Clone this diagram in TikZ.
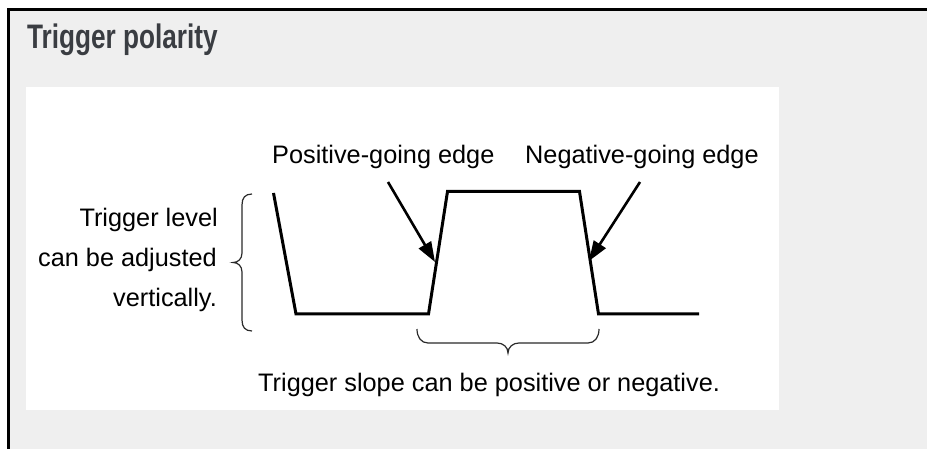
\documentclass[tikz,border=0pt]{standalone}
\usepackage{fontspec}
\setmainfont{Liberation Sans}
\usetikzlibrary{arrows.meta}
\definecolor{panelgray}{HTML}{EFEFEF}
\definecolor{titlegray}{HTML}{3A3D42}
\definecolor{bracegray}{HTML}{2A2A2A}
\tikzset{
  lbl/.style={inner sep=0pt, font=\fontsize{25.3}{30}\selectfont, text=black},
  wave/.style={line width=3pt, line join=miter},
  pointer/.style={line width=2.6pt, -{Triangle[length=20pt,width=14pt]}},
  bracepath/.style={line width=1.2pt, draw=bracegray},
}
\begin{document}
\begin{tikzpicture}[x=1pt,y=-1pt]
\useasboundingbox (0,0) rectangle (927,449);
\clip (0,0) rectangle (927,449);
\fill[white] (0,0) rectangle (927,449);
% outer frame
\filldraw[fill=panelgray, draw=black, line width=3pt] (8,10) rectangle (960,480);
% white panel
\fill[white] (26,87) rectangle (779,410);
% title
\node[inner sep=0pt, anchor=base west, text=titlegray, xscale=0.77,
      font=\fontsize{34}{40}\bfseries\selectfont] (title) at (27,49) {Trigger polarity};
% labels
\node[lbl, anchor=base west] (pos) at (272,164) {Positive-going edge};
\node[lbl, anchor=base west] (neg) at (525,164) {Negative-going edge};
\node[lbl, anchor=base east] (lv1) at (218,227) {Trigger level};
\node[lbl, anchor=base east] (lv2) at (217,267) {can be adjusted};
\node[lbl, anchor=base east] (lv3) at (217,307) {vertically.};
\node[lbl, anchor=base west] (slope) at (258,391) {Trigger slope can be positive or negative.};
% waveform
\coordinate (w0) at (273.5,193);
\coordinate (w1) at (296,314);
\coordinate (w2) at (428.5,314);
\coordinate (w3) at (447.5,191.5);
\coordinate (w4) at (579.5,191.5);
\coordinate (w5) at (598.5,314);
\coordinate (w6) at (699,314);
\draw[wave] (w0) -- (w1) -- (w2) -- (w3) -- (w4) -- (w5) -- (w6);
% arrows
\coordinate (a1s) at (388,182);
\coordinate (a1e) at (435,262);
\coordinate (a2s) at (640,182);
\coordinate (a2e) at (589,261);
\draw[pointer] (a1s) -- (a1e);
\draw[pointer] (a2s) -- (a2e);
% left brace
\draw[bracepath] (252,194) .. controls (245,194) and (242,198) .. (242,205)
  -- (242,253) .. controls (242,259) and (238,262.5) .. (233,262.5)
  .. controls (238,262.5) and (242,266) .. (242,272)
  -- (242,320) .. controls (242,327) and (245,331) .. (252,331);
% bottom brace
\draw[bracepath] (417,329) .. controls (417,337) and (421,343) .. (428,343)
  -- (497,343) .. controls (503,343) and (508,347) .. (508,353)
  .. controls (508,347) and (513,343) .. (519,343)
  -- (588,343) .. controls (595,343) and (599,337) .. (599,329);
\end{tikzpicture}
\end{document}
